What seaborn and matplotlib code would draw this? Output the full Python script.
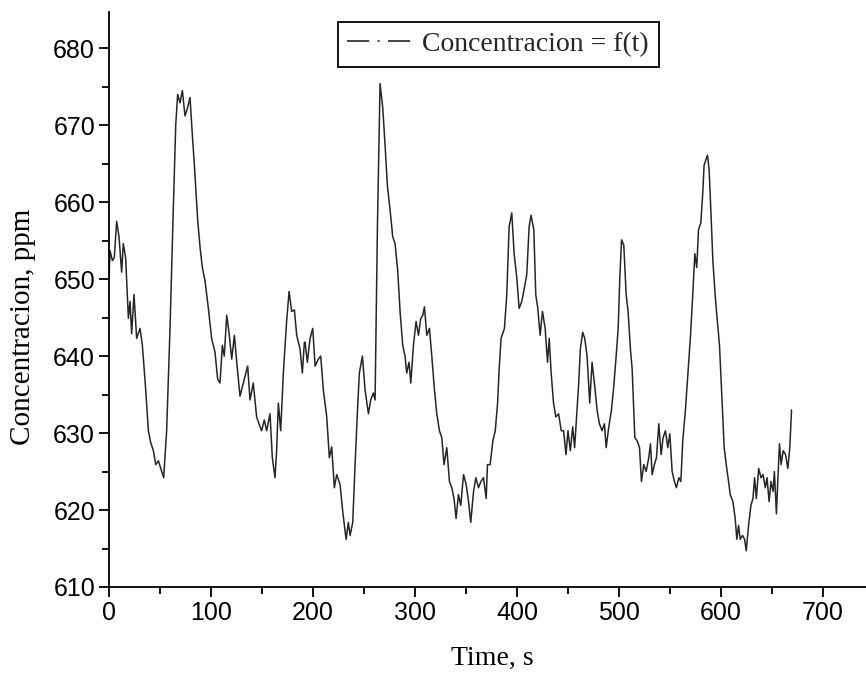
import matplotlib
matplotlib.use('Agg')
import matplotlib.pyplot as plt
from matplotlib.lines import Line2D
from matplotlib.ticker import MultipleLocator
import seaborn as sns
import pandas as pd

# Values (time in s, concentration in ppm)
time_s = [
    0, 1, 3.3, 5.2, 7.5, 9.8, 12.4, 14, 16.3, 19, 20.6, 22.2, 24.5, 27.1, 30.4, 32.7, 36, 38.6,
    40.8, 43.5, 45.8, 48.4, 51, 53.6, 56.5, 59.8, 63, 65.4, 67.3, 69.6, 71.9, 74.5, 77.1, 79.4,
    81.7, 83.7, 86.9, 89.2, 91.5, 94.1, 97.4, 100.6, 103.9, 106.5, 108.8, 111.1, 113, 115.4,
    117.6, 120.3, 122.9, 125.2, 128.4, 131.7, 135.9, 138.2, 141.4, 144.7, 147, 149.6, 152.2,
    154.5, 157.8, 160.1, 162.7, 164.3, 166, 168.3, 170.9, 174.1, 176.5, 179.1, 181.7, 184,
    187.3, 189.5, 191.5,
    192.2, 194.4, 197.1, 199.7, 202, 205.2, 207.5, 210.1, 213.4, 216, 218.3, 220.9, 223.2,
    226.5, 229.1, 232.4, 234.6, 236.3, 238.9, 241.2, 243.4, 245.4, 248.4, 251, 254.3, 256.5,
    259.2, 260.8, 263.1, 265.7, 268.3, 270.6, 272.9, 275.5, 278.1, 280.4, 283, 285.3, 287.9,
    290.2, 291.8, 294.1, 295.8, 298.4, 301, 303.3, 305.6, 307.6, 309.2, 311.5, 314.1, 316.4,
    319, 321.3, 323.9, 326.2, 328.4, 331.1, 333.7, 336, 338.2, 340.2, 342.5, 344.8, 347.5,
    350.1, 352.4, 354.6, 357.3, 359.6, 362.2, 364.5, 367.1, 369.7, 371, 373.6, 376.3, 378.6,
    380.9,
    382.4, 384.3, 387.6, 389.9, 392.2, 394.8, 397.1, 399.7, 402, 404.6, 407.2, 409.5, 411.8,
    413.7, 416.4, 418.3, 420.3, 422.6, 424.9, 427.5, 429.8, 431.5, 433.4, 435.7, 438, 440.7,
    443.3, 445.6, 447.9, 449.9, 452.2, 454.5, 456.4, 458.7, 460.4, 462, 464.3, 466.3, 468.6,
    471.2, 473.5, 476.1, 478.4, 480.7, 483.3, 485.6, 487.3, 489.9, 492.5, 494.8, 497.1, 499.1,
    500.7, 502.4, 504.6, 506.9, 508.8, 511.1, 512.8, 515.4, 517.7, 520, 521.9, 524.2, 526.5,
    529.1, 530.7, 532.4, 534.6, 536.6, 538.9, 541.2, 543.1, 545.4, 547.7, 549.7, 552, 554.2,
    556.2, 558.5, 560.5, 562.4, 565, 567.7, 570, 572.2, 574.2,
    576.1, 577.8, 580.1, 582, 583.3, 585.3, 586.6, 588.2, 589.9, 591.9, 594.1, 595.8, 598.4,
    600.7, 603, 605, 607.3, 608.9, 611.5, 613.8, 615.4, 617.1, 618.7, 621, 623, 624.6, 626.9,
    629.2, 631.2, 632.8, 634.5, 636.8, 639.1, 641.1, 643.3, 645, 647, 648.9, 650.9, 652.2,
    654.2, 655.5, 657.2, 658.8, 660.8, 663.1, 665.4, 667.3, 669,
]
conc_ppm = [
    650.2, 653.7, 652.4, 652.8, 657.5, 655.5, 650.9, 654.6, 652.8, 644.9, 647.1, 642.9, 648,
    642.3, 643.6, 641.4, 635.6, 630.3, 628.8, 627.7, 625.9, 626.4, 625.3, 624.2, 630.3, 643.6,
    659, 670, 674, 672.9, 674.5, 671.2, 672.3, 673.6, 668.7, 664.8, 657.7, 654.2, 651.5, 649.8,
    646.2, 642.3, 640.5, 637, 636.5, 641.4, 640, 645.3, 643.1, 639.6, 642.7, 639.2, 634.8,
    636.5, 638.7, 634.3, 636.5, 632.1, 631.2, 630.3, 631.7, 630.3, 632.5, 626.8, 624.2, 627.7,
    633.9, 630.3, 637.8, 644.5, 648.4, 645.8, 646, 642.7, 640.9, 637.8, 641.8,
    641.8, 639.2, 642.3, 643.6, 638.7, 639.6, 640, 635.6, 632.1, 626.8, 628.2, 622.9, 624.6,
    623.3, 619.8, 616.2, 618.4, 616.7, 618.4, 625.9, 632.5, 637.8, 640, 635.6, 632.5, 634.3,
    635.2, 634.3, 656.8, 675.4, 672.3, 667.4, 662.1, 659, 655.5, 654.6, 651.1, 645.8, 641.4,
    640, 637.8, 639.2, 636.5, 641.4, 644.5, 642.7, 644.9, 645.3, 646.4, 642.7, 643.6, 640,
    635.6, 632.5, 630.3, 629.4, 625.9, 628.1, 623.7, 622.9, 621.5, 618.9, 622, 620.6, 624.6,
    623.3, 621.1, 618.4, 622.4, 624.2, 622.9, 623.7, 624.2, 621.5, 625.9, 625.9, 629, 630.3,
    633.9,
    638.3, 642.3, 643.6, 648, 656.8, 658.6, 653.3, 650.2, 646.2, 647.1, 648.9, 650.6, 656.8,
    658.3, 656.4, 648, 646.2, 642.7, 645.8, 643.6, 639.2, 642.3, 637.8, 633.9, 632.1, 632.5,
    630.3, 630.3, 627.2, 630.3, 627.7, 630.8, 628.1, 633, 636.5, 640.9, 643.1, 642.3, 640,
    633.9, 639.2, 636.1, 633, 631.2, 630.3, 631.2, 628.1, 630.8, 633, 636.1, 640, 643.6, 650.2,
    655.1, 654.4, 648, 645.8, 640.9, 638.3, 629.4, 629, 628.1, 623.7, 625.9, 625, 626.8, 628.6,
    624.6, 625.9, 626.8, 631.2, 627.2, 629.4, 630.3, 628.1, 629.9, 625, 623.7, 622.9, 624.2,
    623.7, 629, 633, 638.3, 642.7, 648, 653.3,
    651.5, 656.4, 657.3, 661.2, 664.8, 665.6, 666.1, 664.3, 659, 652.4, 648, 645.3, 641.4,
    634.8, 628.1, 625.9, 623.7, 622, 621.1, 618.9, 616.2, 618, 616.2, 616.7, 616.2, 614.7, 618,
    620.6, 621.5, 624.2, 621.5, 625.4, 624.2, 624.6, 622.9, 624.2, 621.1, 623.7, 622.4, 625,
    619.5, 623.7, 628.6, 625.9, 627.7, 627.2, 625.4, 628.1, 633,
]
x_ticks = [0, 100, 200, 300, 400, 500, 600, 700]
y_ticks = [610, 620, 630, 640, 650, 660, 670, 680]
legend_label = 'Concentracion = f(t)'

df = pd.DataFrame({'time': time_s, 'conc': conc_ppm})

sns.set_style('ticks')
plt.rcParams['font.family'] = ['Liberation Serif', 'DejaVu Serif']
plt.rcParams['lines.scale_dashes'] = False

W, H = 866, 673
fig = plt.figure(figsize=(W / 100, H / 100), dpi=100)
# axes box in pixels: left 109, bottom 587, top 12, runs off the right edge
ax = fig.add_axes([109 / W, 1 - 587 / H, (W - 109) / W, (587 - 12) / H])

sns.lineplot(data=df, x='time', y='conc', ax=ax, color='#262626', linewidth=1.1,
             estimator=None, legend=False)

ax.set_xlim(0, 742)
ax.set_ylim(610, 684.7)
ax.set_xticks(x_ticks)
ax.set_yticks(y_ticks)
ax.xaxis.set_minor_locator(MultipleLocator(50))
ax.yaxis.set_minor_locator(MultipleLocator(5))

for side in ['top', 'right']:
    ax.spines[side].set_visible(False)
for side in ['left', 'bottom']:
    ax.spines[side].set_color('black')
    ax.spines[side].set_linewidth(1.3)

ax.tick_params(which='major', direction='out', length=7, width=1.3, color='black', pad=3)
ax.tick_params(which='minor', direction='out', length=5, width=1.3, color='black')
for lab in ax.get_xticklabels() + ax.get_yticklabels():
    lab.set_fontfamily('Liberation Sans')
    lab.set_fontsize(18)
    lab.set_color('black')

ax.set_xlabel('Time, s', fontsize=20, color='black')
ax.set_ylabel('Concentracion, ppm', fontsize=21, color='black')
ax.xaxis.set_label_coords(0.506, -0.103)
ax.yaxis.set_label_coords(-0.096, 0.452)

handle = Line2D([], [], color='#262626', linewidth=1.2, linestyle=(0, (16, 6, 1.5, 6)))
leg = ax.legend(handles=[handle], labels=[legend_label], loc='upper center',
                bbox_to_anchor=(0.514, 0.983), fontsize=20, frameon=True, fancybox=False,
                framealpha=1, edgecolor='black', handlelength=2.4, handletextpad=0.3,
                borderpad=0.35, borderaxespad=0)
leg.get_frame().set_linewidth(1.3)

fig.savefig('out.png', dpi=100)
